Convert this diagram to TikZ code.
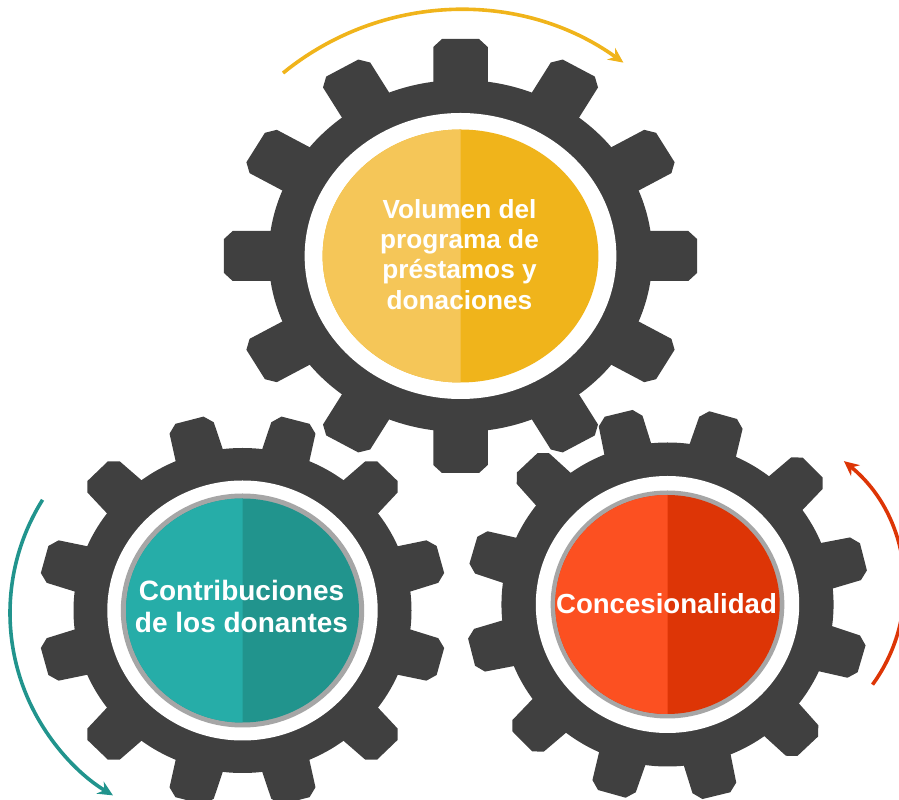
\documentclass[tikz,border=0pt]{standalone}
\usepackage{fontspec}
\setmainfont{Liberation Sans}
\usetikzlibrary{arrows.meta}
\definecolor{geargray}{RGB}{64,64,64}
\definecolor{ringgray}{RGB}{166,166,166}
\definecolor{ylight}{RGB}{245,198,88}
\definecolor{ydark}{RGB}{240,180,27}
\definecolor{tlight}{RGB}{38,173,168}
\definecolor{tdark}{RGB}{33,148,141}
\definecolor{olight}{RGB}{252,80,33}
\definecolor{odark}{RGB}{221,53,6}
\tikzset{
  gearbody/.style={fill=geargray},
  hole/.style={fill=white},
  rotarrow/.style={line width=3.6pt, -{Stealth[length=15pt,width=14pt,inset=5pt]}},
  label/.style={text=white, font=\bfseries, align=center, inner sep=0pt, anchor=base}
}
\begin{document}
\begin{tikzpicture}[x=1pt,y=1pt]
\useasboundingbox (0,0) rectangle (899,800);
\clip (0,0) rectangle (899,800);

% ---------- top gear ----------
\begin{scope}[shift={(460.5,544)}, xscale=1.09]
  \fill[gearbody] (0,0) circle[radius=176];
  \foreach \a in {0,30,...,330} {
    \fill[gearbody, rotate=\a] (160,-25) -- (209,-25) -- (217,-17) -- (217,17) -- (209,25) -- (160,25) -- cycle;
  }
\end{scope}
% ---------- bottom-left gear ----------
\begin{scope}[shift={(242.5,189.5)}, xscale=1.04]
  \fill[gearbody] (0,0) circle[radius=162.5];
  \foreach \a in {15,45,...,345} {
    \fill[gearbody, rotate=\a] (150,-24) -- (189,-22) -- (197,-14) -- (197,14) -- (189,22) -- (150,24) -- cycle;
  }
\end{scope}
% ---------- bottom-right gear ----------
\begin{scope}[shift={(667.5,195.5)}, xscale=1.025]
  \fill[gearbody] (0,0) circle[radius=162];
  \foreach \a in {14,44,...,344} {
    \fill[gearbody, rotate=\a] (150,-24) -- (189,-22) -- (197,-14) -- (197,14) -- (189,22) -- (150,24) -- cycle;
  }
\end{scope}

% ---------- interiors ----------
\begin{scope}[shift={(460.5,544)}, xscale=1.09]
  \fill[hole] (0,0) circle[radius=143];
  \fill[ydark] (0,0) circle[radius=126.5];
  \fill[ylight] (0,126.5) arc[start angle=90, end angle=270, radius=126.5] -- cycle;
\end{scope}
\begin{scope}[shift={(242.5,189.5)}, xscale=1.04]
  \fill[hole] (0,0) circle[radius=130];
  \fill[ringgray] (0,0) circle[radius=117];
  \fill[tdark] (0,0) circle[radius=112];
  \fill[tlight] (0,112) arc[start angle=90, end angle=270, radius=112] -- cycle;
\end{scope}
\begin{scope}[shift={(667.5,195.5)}, xscale=1.025]
  \fill[hole] (0,0) circle[radius=128.5];
  \fill[ringgray] (0,0) circle[radius=114];
  \fill[odark] (0,0) circle[radius=109.5];
  \fill[olight] (0,109.5) arc[start angle=90, end angle=270, radius=109.5] -- cycle;
\end{scope}

% ---------- labels (base = baseline of last line) ----------
\node[label, font=\bfseries\fontsize{26.2}{30.3}\selectfont] (vol) at (459.5,490.7)
  {Volumen del\\programa de\\préstamos y\\donaciones};
\node[label, font=\bfseries\fontsize{28}{32}\selectfont] (con) at (241.5,167)
  {Contribuciones\\de los donantes};
\node[label, font=\bfseries\fontsize{27.6}{32}\selectfont] (cons) at (666.5,186.7)
  {Concesionalidad};

% ---------- rotation arrows ----------
\draw[rotarrow, draw=ydark] (460,510) ++(129.2:280) arc[start angle=129.2, end angle=54.3, radius=280];
\draw[rotarrow, draw=tdark] (223,187) ++(147.9:213) arc[start angle=147.9, end angle=238.9, radius=213];
\draw[rotarrow, draw=odark] (740,212) ++(-36.1:164) arc[start angle=-36.1, end angle=50.7, radius=164];
\end{tikzpicture}
\end{document}
